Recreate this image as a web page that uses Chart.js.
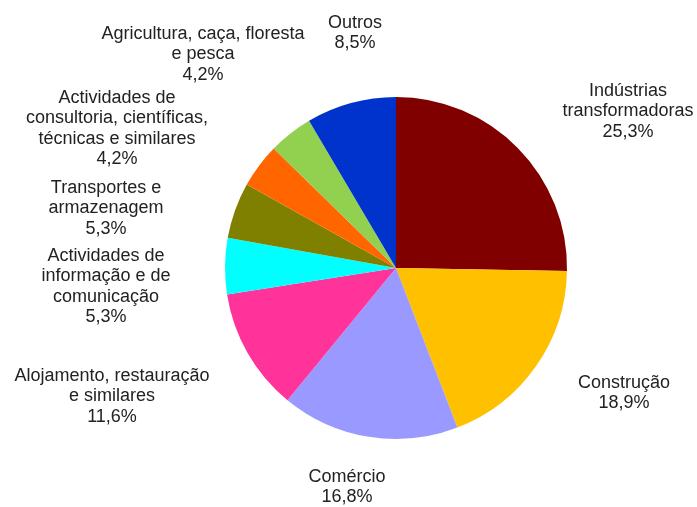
<!DOCTYPE html>
<html>
<head>
<meta charset="utf-8">
<script src="https://cdn.jsdelivr.net/npm/chart.js@4"></script>
<style>
  html, body { margin: 0; padding: 0; background: #fff; }
  #wrap { width: 697px; height: 507px; position: relative; }
</style>
</head>
<body>
<div id="wrap"><canvas id="chart"></canvas></div>
<script>
// Sectores (sentido horário a partir do topo)
const sectors = [
  'Indústrias transformadoras',
  'Construção',
  'Comércio',
  'Alojamento, restauração e similares',
  'Actividades de informação e de comunicação',
  'Transportes e armazenagem',
  'Actividades de consultoria, científicas, técnicas e similares',
  'Agricultura, caça, floresta e pesca',
  'Outros',
];
const shares = [25.3, 18.9, 16.8, 11.6, 5.3, 5.3, 4.2, 4.2, 8.5];

// Linhas de texto de cada rótulo (sem o valor)
const labelLines = [
  ['Indústrias', 'transformadoras'],
  ['Construção'],
  ['Comércio'],
  ['Alojamento, restauração', 'e similares'],
  ['Actividades de', 'informação e de', 'comunicação'],
  ['Transportes e', 'armazenagem'],
  ['Actividades de', 'consultoria, científicas,', 'técnicas e similares'],
  ['Agricultura, caça, floresta', 'e pesca'],
  ['Outros'],
];

const COLORS = ['#800000', '#ffc000', '#9999ff', '#ff3399', '#00ffff', '#808000', '#ff6600', '#92d050', '#0033cc'];

// posição (centro x, topo da 1ª linha) de cada rótulo
const LABEL_POS = [
  [628, 82], [624, 374], [347, 468], [112, 367], [106, 247],
  [106, 179], [117, 89], [203, 25], [355, 14],
];

const fmtPct = v => v.toFixed(1).replace('.', ',') + '%';

const outsideLabels = {
  id: 'outsideLabels',
  afterDraw(chart) {
    const ctx = chart.ctx;
    ctx.save();
    ctx.font = '18px "Liberation Sans", Arial, sans-serif';
    ctx.fillStyle = '#222';
    ctx.textAlign = 'center';
    ctx.textBaseline = 'top';
    const LH = 20.5;
    chart.data.datasets[0].data.forEach((v, i) => {
      const [x, y] = LABEL_POS[i];
      const lines = [...labelLines[i], fmtPct(v)];
      lines.forEach((t, k) => ctx.fillText(t, x, y + k * LH));
    });
    ctx.restore();
  },
};

new Chart(document.getElementById('chart'), {
  type: 'pie',
  data: {
    labels: sectors,
    datasets: [{
      data:            shares,
      backgroundColor: COLORS,
      borderColor:     COLORS,
      borderWidth:     0,
    }],
  },
  options: {
    responsive: true,
    maintainAspectRatio: false,
    animation: false,
    layout: { padding: { left: 225, right: 130, top: 97, bottom: 68 } },
    plugins: {
      legend:  { display: false },
      tooltip: { enabled: false },
    },
  },
  plugins: [outsideLabels],
});
</script>
</body>
</html>
